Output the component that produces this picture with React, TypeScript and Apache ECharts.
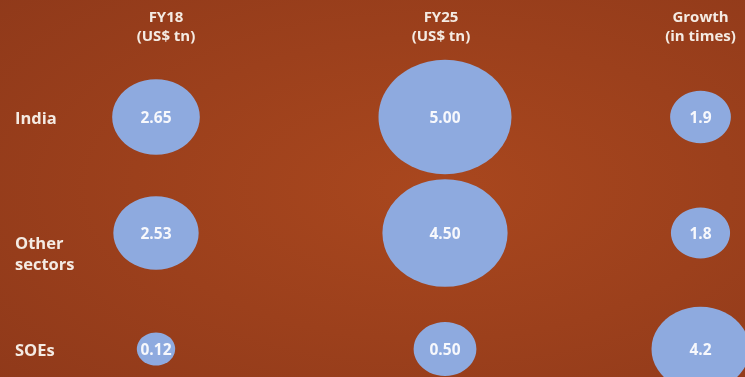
import React, { useEffect, useRef } from "react";
import * as echarts from "echarts";

// Column headers, row names and bubble values
const columnHeaders = ["FY18\n(US$ tn)", "FY25\n(US$ tn)", "Growth\n(in times)"];
const rowNames = ["India", "Other sectors", "SOEs"];
const fy18Values = [2.65, 2.53, 0.12];
const fy25Values = [5.0, 4.5, 0.5];
const growthValues = [1.9, 1.8, 4.2];
const valueDecimals = [2, 2, 1];

// Per-column layout: horizontal centre and bubble size scale (width = base + slope * value)
const columnLayout = [
  { cx: 156, base: 36, slope: 19.5, headerShift: 20 },
  { cx: 445, base: 55, slope: 15.6, headerShift: -8 },
  { cx: 706, base: 30, slope: 16.2, headerShift: 0 },
];

const BUBBLE = "#8eaadf";
const TEXT = "#f4ebe3";
const FONT = "'Open Sans', 'DejaVu Sans', sans-serif";

export default function App() {
  const ref = useRef<HTMLDivElement>(null);

  useEffect(() => {
    if (!ref.current) return;
    const chart = echarts.init(ref.current, undefined, { renderer: "svg" });
    const seriesValues = [fy18Values, fy25Values, growthValues];

    const grids = columnLayout.map((c) => ({
      left: c.cx - 50,
      width: 100,
      top: 117,
      bottom: 28,
    }));

    const xAxes = columnHeaders.map((h, i) => ({
      type: "category" as const,
      gridIndex: i,
      position: "top" as const,
      data: [h],
      boundaryGap: true,
      axisLine: { show: false },
      axisTick: { show: false },
      splitLine: { show: false },
      axisLabel: {
        margin: 73,
        color: TEXT,
        fontFamily: FONT,
        fontWeight: "bold" as const,
        fontSize: 15,
        lineHeight: 19,
        align: "center" as const,
        padding:
          columnLayout[i].headerShift >= 0
            ? [0, 0, 0, columnLayout[i].headerShift]
            : [0, -columnLayout[i].headerShift, 0, 0],
      },
    }));

    const yAxes = columnHeaders.map((_, i) => ({
      type: "category" as const,
      gridIndex: i,
      data: rowNames,
      inverse: true,
      boundaryGap: false,
      axisLine: { show: false },
      axisTick: { show: false },
      splitLine: { show: false },
      axisLabel: {
        show: i === 0,
        margin: columnLayout[0].cx - 50 - 15,
        align: "left" as const,
        formatter: (v: string) => {
          const words = v.split(" ");
          if (words.length > 1) {
            return "{pad|}\n" + words.map((w) => "{t|" + w + "}").join("\n");
          }
          return "{t|" + v + "}";
        },
        rich: {
          t: {
            color: TEXT,
            fontFamily: FONT,
            fontWeight: "bold" as const,
            fontSize: 16.5,
            lineHeight: 21,
          },
          pad: { height: 40, lineHeight: 40 },
        },
      },
    }));

    const series = seriesValues.map((vals, i) => ({
      type: "scatter" as const,
      xAxisIndex: i,
      yAxisIndex: i,
      clip: false,
      data: vals.map((v, j) => [columnHeaders[i], rowNames[j], v]),
      encode: { x: 0, y: 1 },
      symbol: "circle",
      symbolSize: (d: any) => {
        const w = columnLayout[i].base + columnLayout[i].slope * d[2];
        return [w, w * 0.86];
      },
      itemStyle: { color: BUBBLE, opacity: 1 },
      label: {
        show: true,
        position: "inside" as const,
        color: "#f7f8fc",
        fontFamily: FONT,
        fontWeight: "bold" as const,
        fontSize: 15.5,
        formatter: (p: any) => Number(p.value[2]).toFixed(valueDecimals[i]),
      },
      emphasis: { disabled: true },
    }));

    chart.setOption({
      animation: false,
      backgroundColor: new echarts.graphic.RadialGradient(0.58, 0.5, 0.8, [
        { offset: 0, color: "#a9471e" },
        { offset: 1, color: "#8f391a" },
      ]),
      grid: grids,
      xAxis: xAxes,
      yAxis: yAxes,
      series,
    });

    return () => chart.dispose();
  }, []);

  return (
    <div
      ref={ref}
      style={{ position: "fixed", left: 0, top: 0, width: 745, height: 377 }}
    />
  );
}
